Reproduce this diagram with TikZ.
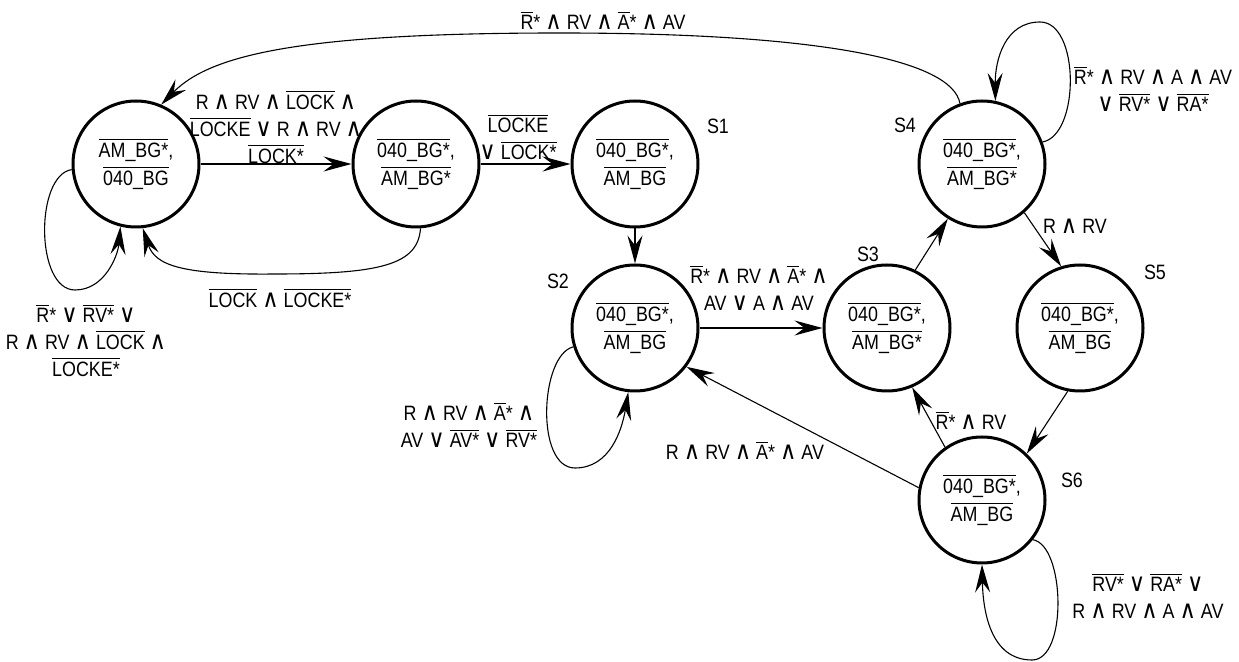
\documentclass[tikz,border=0pt]{standalone}
\usepackage{fontspec}
\usepackage{tikz}
\usetikzlibrary{arrows.meta}
\setmainfont{Liberation Sans}[FakeStretch=0.86]
\newfontfamily\opfont{DejaVu Sans}[Scale=1.2,FakeStretch=0.9]
\newcommand{\NOT}[1]{$\overline{\mbox{#1}}$}
\newcommand{\AND}{{\opfont ∧}}
\newcommand{\OR}{{\opfont ∨}}

\begin{document}
\begin{tikzpicture}[x=0.5pt,y=-0.5pt,>={Stealth[length=14pt,width=7.5pt,inset=5pt]},
  font=\fontsize{10.4}{13.5}\selectfont,
  state/.style={circle,draw,line width=1.5pt,minimum size=63pt,inner sep=0pt,align=center,
    font=\fontsize{10.4}{14}\selectfont},
  lbl/.style={align=center,inner sep=0pt},
  tr/.style={->,line width=0.55pt}]
  \useasboundingbox (0,0) rectangle (1239,662);
  % states
  \node[state] (s0) at (136,164) {\NOT{AM\_BG*},\\ \NOT{040\_BG}};
  \node[state] (sa) at (416,164) {\NOT{040\_BG*},\\ \NOT{AM\_BG*}};
  \node[state] (s1) at (635,164) {\NOT{040\_BG*},\\ \NOT{AM\_BG}};
  \node[state] (s2) at (635,328) {\NOT{040\_BG*},\\ \NOT{AM\_BG}};
  \node[state] (s3) at (887,328) {\NOT{040\_BG*},\\ \NOT{AM\_BG*}};
  \node[state] (s4) at (982,164) {\NOT{040\_BG*},\\ \NOT{AM\_BG*}};
  \node[state] (s5) at (1080,328) {\NOT{040\_BG*},\\ \NOT{AM\_BG}};
  \node[state] (s6) at (982,500) {\NOT{040\_BG*},\\ \NOT{AM\_BG}};
  % state names
  \node (n1) at (718,126) {S1};
  \node (n2) at (558,281) {S2};
  \node (n3) at (868,254) {S3};
  \node (n4) at (905,125) {S4};
  \node (n5) at (1155,272) {S5};
  \node (n6) at (1072,480) {S6};
  % straight transitions
  \draw[tr] (s0) -- (sa);
  \draw[tr] (sa) -- (s1);
  \draw[tr] (s1) -- (s2);
  \draw[tr] (s2) -- (s3);
  \draw[tr] (s3.64) -- (s4.-122);
  \draw[tr] (s4.-49) -- (s5.107);
  \draw[tr] (s5.-101) -- (s6.46);
  \draw[tr] (s6.125) -- (s3.-67);
  \draw[tr] (s6.169) -- (s2.-37);
  % curved transitions back to the first state
  \draw[tr] (sa.-86) .. controls (418,265) and (380,274) .. (275,274)
    .. controls (180,275) and (155,265) .. (s0.-84);
  \draw[tr] (s4.110) .. controls (952,60) and (820,33) .. (560,33)
    .. controls (300,33) and (210,55) .. (s0.67);
  % self loops
  \draw[tr] (s0.185) .. controls (35,175) and (35,290) .. (75,290)
    .. controls (105,290) and (118,255) .. (s0.256);
  \draw[tr] (s2.197) .. controls (540,355) and (535,468) .. (575,468)
    .. controls (610,468) and (622,430) .. (s2.264);
  \draw[tr] (s4.20) .. controls (1080,135) and (1080,22) .. (1040,22)
    .. controls (1005,22) and (995,60) .. (s4.78);
  \draw[tr] (s6.-38) .. controls (1065,545) and (1068,660) .. (1032,660)
    .. controls (990,660) and (983,610) .. (s6.-90);
  % transition conditions
  \node[lbl] (c01) at (276,127) {R \AND{} RV \AND{} \NOT{LOCK} \AND\\ \NOT{LOCKE} \OR{} R \AND{} RV \AND\\ \NOT{LOCK*}};
  \node[lbl] (c10) at (280,298) {\NOT{LOCK} \AND{} \NOT{LOCKE*}};
  \node[lbl] (c00) at (86,340) {\NOT{R}* \OR{} \NOT{RV*} \OR\\ R \AND{} RV \AND{} \NOT{LOCK} \AND\\ \NOT{LOCKE*}};
  \node[lbl] (c11) at (518,137) {\NOT{LOCKE}\\ \OR{} \NOT{LOCK*}};
  \node[lbl] (c40) at (603,20) {\NOT{R}* \AND{} RV \AND{} \NOT{A}* \AND{} AV};
  \node[lbl] (c44) at (1153,89) {\NOT{R}* \AND{} RV \AND{} A \AND{} AV\\ \OR{} \NOT{RV*} \OR{} \NOT{RA*}};
  \node[lbl] (c45) at (1075,226) {R \AND{} RV};
  \node[lbl] (c23) at (759,288) {\NOT{R}* \AND{} RV \AND{} \NOT{A}* \AND\\ AV \OR{} A \AND{} AV};
  \node[lbl] (c22) at (469,425) {R \AND{} RV \AND{} \NOT{A}* \AND\\ AV \OR{} \NOT{AV*} \OR{} \NOT{RV*}};
  \node[lbl] (c63) at (971,420) {\NOT{R}* \AND{} RV};
  \node[lbl] (c62) at (745,450) {R \AND{} RV \AND{} \NOT{A}* \AND{} AV};
  \node[lbl] (c66) at (1148,596) {\NOT{RV*} \OR{} \NOT{RA*} \OR\\ R \AND{} RV \AND{} A \AND{} AV};
\end{tikzpicture}
\end{document}
